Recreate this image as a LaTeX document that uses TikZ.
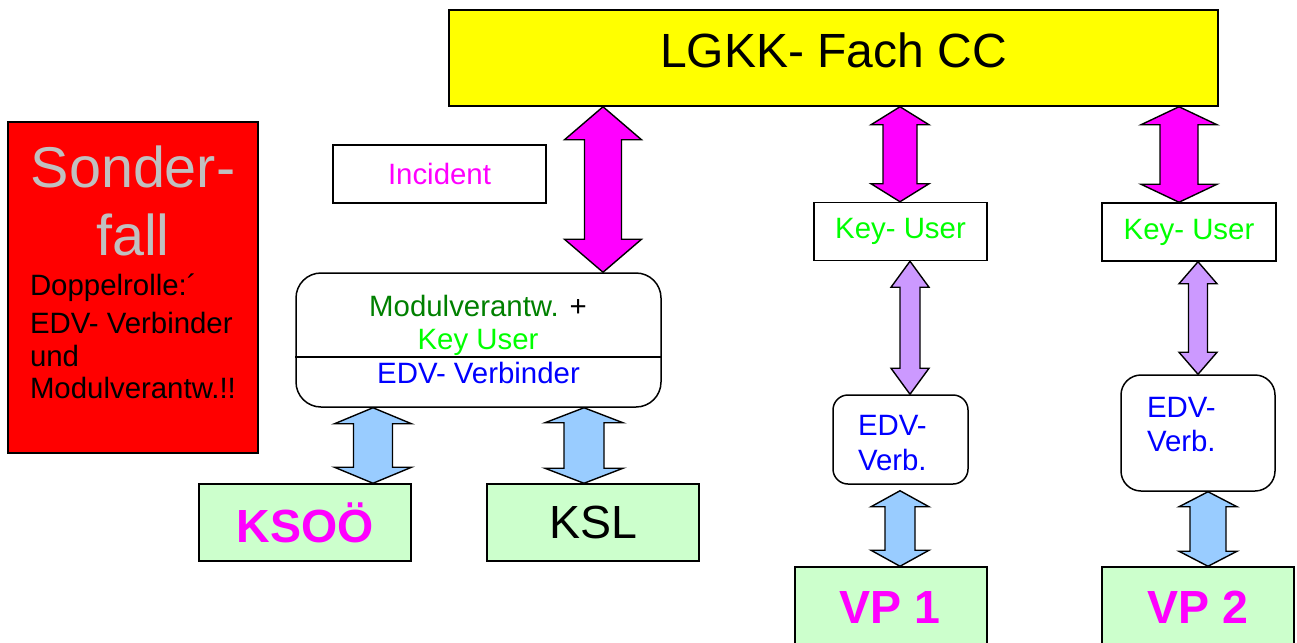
\documentclass[tikz,border=0pt]{standalone}
\usepackage{fontspec}
\setmainfont{Liberation Sans}
\usetikzlibrary{calc}

\definecolor{boxyellow}{HTML}{FFFF00}
\definecolor{boxred}{HTML}{FF0000}
\definecolor{boxgreen}{HTML}{CCFFCC}
\definecolor{arrmagenta}{HTML}{FF00FF}
\definecolor{arrblue}{HTML}{99CCFF}
\definecolor{arrpurple}{HTML}{CC99FF}
\definecolor{txtgrey}{HTML}{C0C0C0}
\definecolor{txtdarkgreen}{HTML}{008000}
\definecolor{txtgreen}{HTML}{00FF00}
\definecolor{txtblue}{HTML}{0000FF}

\newcommand{\fsz}[1]{\fontsize{#1}{#1}\selectfont}

% vertical double block arrow between two points:
% #1 top point, #2 bottom point, #3 half head width, #4 half shaft width,
% #5 head length, #6 fill colour
\newcommand{\blockarrow}[6]{%
  \draw[arrowline, fill=#6] let \p1=#1, \p2=#2 in
    (\x1,\y1) -- ({\x1+#3},{\y1-#5}) -- ({\x1+#4},{\y1-#5})
    -- ({\x1+#4},{\y2+#5}) -- ({\x1+#3},{\y2+#5}) -- (\x1,\y2)
    -- ({\x1-#3},{\y2+#5}) -- ({\x1-#4},{\y2+#5})
    -- ({\x1-#4},{\y1-#5}) -- ({\x1-#3},{\y1-#5}) -- cycle;}

\tikzset{
  box/.style={draw=black, line width=1.5pt, inner sep=0pt, rectangle},
  lbl/.style={inner sep=0pt, outer sep=0pt},
  arrowline/.style={draw=black, line width=1.4pt, line join=miter},
  small/.style={font=\fsz{29.4}},
  big/.style={font=\fsz{46.5}},
  bigbold/.style={font=\fsz{46.5}\bfseries},
}

\begin{document}
\begin{tikzpicture}[x=1pt,y=-1pt]
\useasboundingbox (0,0) rectangle (1297,642);
\fill[white] (0,0) rectangle (1297,642);
\clip (0,0) rectangle (1297,642);

% top box
\node[box, fill=boxyellow, minimum width=769, minimum height=96] (fach) at (833.5,58) {};
\node[lbl, anchor=base, font=\fsz{48}] (fachtxt) at (833.5,67) {LGKK- Fach CC};

% special case box
\node[box, fill=boxred, minimum width=250, minimum height=331] (sonder) at (133,287.5) {};
\node[lbl, anchor=base, font=\fsz{57.5}, text=txtgrey] (sondera) at (133,187) {Sonder-};
\node[lbl, anchor=base, font=\fsz{57.5}, text=txtgrey] (sonderb) at (133,255) {fall};
\node[lbl, anchor=base west, small] (rolea) at (30,295) {Doppelrolle:´};
\node[lbl, anchor=base west, small] (roleb) at (30,333) {EDV- Verbinder};
\node[lbl, anchor=base west, small] (rolec) at (30,366) {und};
\node[lbl, anchor=base west, small] (roled) at (30,398) {Modulverantw.!!};

% incident
\node[box, small, text=arrmagenta, minimum width=213, minimum height=58] (incident) at (439.5,174) {Incident};

% module box
\node[box, rounded corners=25pt, minimum width=365, minimum height=134] (modul) at (478.5,340) {};
\coordinate (divy) at (0,357);
\draw[line width=1.5pt] (modul.west |- divy) -- (modul.east |- divy);
\node[lbl, anchor=base, small] (modtxta) at (478,316) {\textcolor{txtdarkgreen}{Modulverantw.} +};
\node[lbl, anchor=base, small, text=txtgreen] (modtxtb) at (478,349) {Key User};
\node[lbl, anchor=base, small, text=txtblue] (modtxtc) at (478.5,383) {EDV- Verbinder};

% bottom left boxes
\node[box, fill=boxgreen, bigbold, text=arrmagenta, minimum width=212, minimum height=77] (ksoe) at (305,522.5) {KSOÖ};
\node[box, fill=boxgreen, big, minimum width=212, minimum height=77] (ksl) at (593,522.5) {KSL};

% column VP 1
\node[box, small, text=txtgreen, minimum width=173, minimum height=58] (key1) at (900.5,231.5) {Key- User};
\node[box, rounded corners=15pt, minimum width=135, minimum height=89] (edv1) at (900.5,439.5) {};
\node[lbl, anchor=base west, small, text=txtblue] (edv1a) at (858,435) {EDV-};
\node[lbl, anchor=base west, small, text=txtblue] (edv1b) at (858,470) {Verb.};
\node[box, fill=boxgreen, minimum width=192, minimum height=93] (vp1) at (891,613.5) {};
\node[lbl, anchor=base, bigbold, text=arrmagenta] (vp1txt) at (890,623) {VP 1};

% column VP 2
\node[box, small, text=txtgreen, minimum width=174, minimum height=58] (key2) at (1189,232) {Key- User};
\node[box, rounded corners=20pt, minimum width=154, minimum height=116] (edv2) at (1198,433) {};
\node[lbl, anchor=base west, small, text=txtblue] (edv2a) at (1147,417) {EDV-};
\node[lbl, anchor=base west, small, text=txtblue] (edv2b) at (1147,451) {Verb.};
\node[box, fill=boxgreen, minimum width=192, minimum height=93] (vp2) at (1198,613.5) {};
\node[lbl, anchor=base, bigbold, text=arrmagenta] (vp2txt) at (1198,623) {VP 2};

% arrow axes
\coordinate (axm) at (603,0);
\coordinate (axl) at (373,0);
\coordinate (axr) at (584,0);
\coordinate (axa) at (900,0);
\coordinate (axb) at (910,0);
\coordinate (axc) at (1179,0);
\coordinate (axd) at (1198,0);
\coordinate (axe) at (1208,0);

% connectors
\blockarrow{(fach.south -| axm)}{(modul.north -| axm)}{38.5pt}{18.5pt}{33pt}{arrmagenta}
\blockarrow{(modul.south -| axl)}{(ksoe.north -| axl)}{38.5pt}{19.5pt}{16pt}{arrblue}
\blockarrow{(modul.south -| axr)}{(ksl.north -| axr)}{39pt}{20pt}{15pt}{arrblue}

\blockarrow{(fach.south -| axa)}{(key1.north -| axa)}{29pt}{17pt}{18pt}{arrmagenta}
\blockarrow{(key1.south -| axb)}{(edv1.north -| axb)}{19pt}{10pt}{26pt}{arrpurple}
\blockarrow{($(edv1.south -| axa)+(0,6)$)}{(vp1.north -| axa)}{29pt}{15pt}{16pt}{arrblue}

\blockarrow{(fach.south -| axc)}{(key2.north -| axc)}{38pt}{19pt}{18pt}{arrmagenta}
\blockarrow{(key2.south -| axd)}{(edv2.north -| axd)}{19pt}{9.5pt}{22pt}{arrpurple}
\blockarrow{(edv2.south -| axe)}{(vp2.north -| axe)}{29pt}{18pt}{15pt}{arrblue}
\end{tikzpicture}
\end{document}
